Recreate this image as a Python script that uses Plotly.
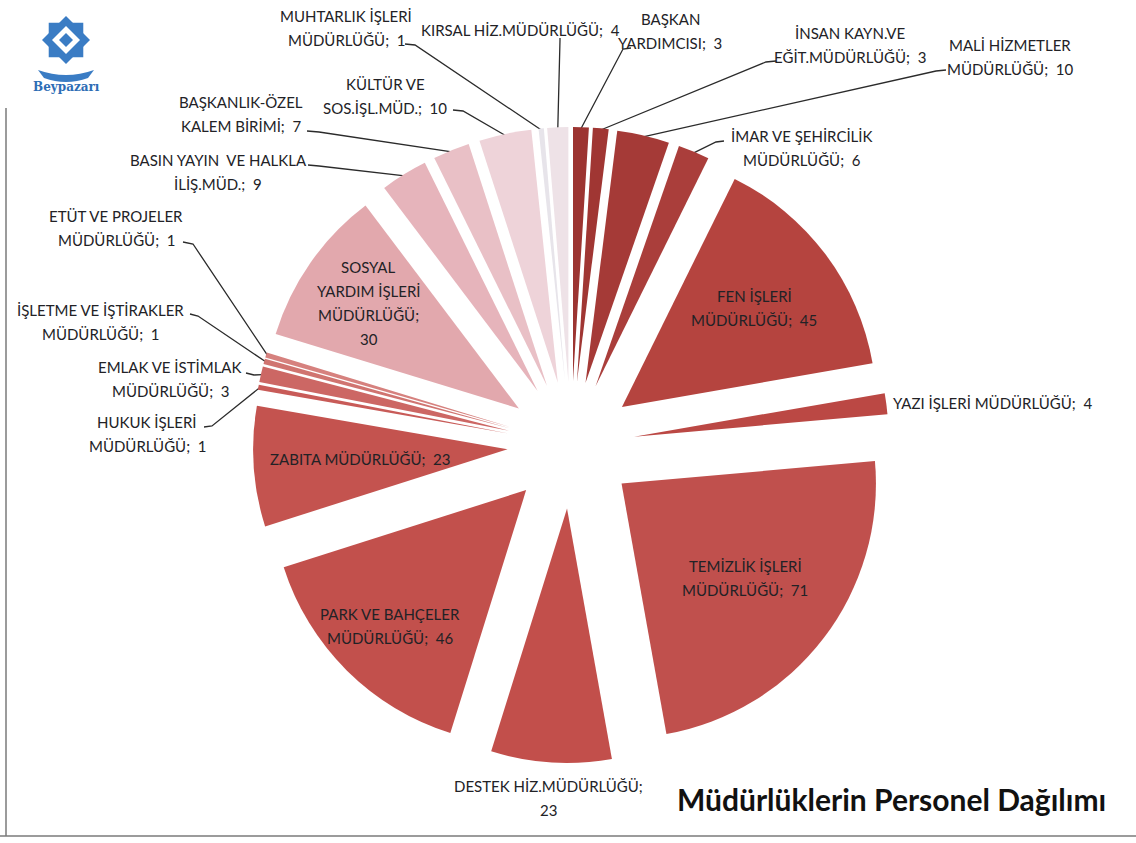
import math
import plotly.graph_objects as go

# ---------------- data ----------------
departments = [
    "BAŞKAN YARDIMCISI",
    "İNSAN KAYN.VE EĞİT.MÜDÜRLÜĞÜ",
    "MALİ HİZMETLER MÜDÜRLÜĞÜ",
    "İMAR VE ŞEHİRCİLİK MÜDÜRLÜĞÜ",
    "FEN İŞLERİ MÜDÜRLÜĞÜ",
    "YAZI İŞLERİ MÜDÜRLÜĞÜ",
    "TEMİZLİK İŞLERİ MÜDÜRLÜĞÜ",
    "DESTEK HİZ.MÜDÜRLÜĞÜ",
    "PARK VE BAHÇELER MÜDÜRLÜĞÜ",
    "ZABITA MÜDÜRLÜĞÜ",
    "HUKUK İŞLERİ MÜDÜRLÜĞÜ",
    "EMLAK VE İSTİMLAK MÜDÜRLÜĞÜ",
    "İŞLETME VE İŞTİRAKLER MÜDÜRLÜĞÜ",
    "ETÜT VE PROJELER MÜDÜRLÜĞÜ",
    "SOSYAL YARDIM İŞLERİ MÜDÜRLÜĞÜ",
    "BASIN YAYIN  VE HALKLA İLİŞ.MÜD.",
    "BAŞKANLIK-ÖZEL KALEM BİRİMİ",
    "KÜLTÜR VE SOS.İŞL.MÜD.",
    "MUHTARLIK İŞLERİ MÜDÜRLÜĞÜ",
    "KIRSAL HİZ.MÜDÜRLÜĞÜ",
]
staff = [3, 3, 10, 6, 45, 4, 71, 23, 46, 23, 1, 3, 1, 1, 30, 9, 7, 10, 1, 4]

# label text as it is broken into lines on the chart
label_text = [
    "BAŞKAN<br>YARDIMCISI;  3",
    "İNSAN KAYN.VE<br>EĞİT.MÜDÜRLÜĞÜ;  3",
    "MALİ HİZMETLER<br>MÜDÜRLÜĞÜ;  10",
    "İMAR VE ŞEHİRCİLİK<br>MÜDÜRLÜĞÜ;  6",
    "FEN İŞLERİ<br>MÜDÜRLÜĞÜ;  45",
    "YAZI İŞLERİ MÜDÜRLÜĞÜ;  4",
    "TEMİZLİK İŞLERİ<br>MÜDÜRLÜĞÜ;  71",
    "DESTEK HİZ.MÜDÜRLÜĞÜ;<br>23",
    "PARK VE BAHÇELER<br>MÜDÜRLÜĞÜ;  46",
    "ZABITA MÜDÜRLÜĞÜ;  23",
    "HUKUK İŞLERİ<br>MÜDÜRLÜĞÜ;  1",
    "EMLAK VE İSTİMLAK<br>MÜDÜRLÜĞÜ;  3",
    "İŞLETME VE İŞTİRAKLER<br>MÜDÜRLÜĞÜ;  1",
    "ETÜT VE PROJELER<br>MÜDÜRLÜĞÜ;  1",
    "SOSYAL<br>YARDIM İŞLERİ<br>MÜDÜRLÜĞÜ;<br>30",
    "BASIN YAYIN  VE HALKLA<br>İLİŞ.MÜD.;  9",
    "BAŞKANLIK-ÖZEL<br>KALEM BİRİMİ;  7",
    "KÜLTÜR VE<br>SOS.İŞL.MÜD.;  10",
    "MUHTARLIK İŞLERİ<br>MÜDÜRLÜĞÜ;  1",
    "KIRSAL HİZ.MÜDÜRLÜĞÜ;  4",
]

title_text = "Müdürlüklerin Personel Dağılımı"

# ---------------- styles / layout ----------------
slice_colors = [
    "#9c3431", "#a03633", "#a53a37", "#aa3e3b", "#b5443f", "#bb4844",
    "#c0504d", "#c24f4b", "#c2504c", "#c4534f", "#c85b58", "#cc6764",
    "#d07470", "#d6817e", "#e2a8ad", "#e6b4bb", "#e9c0c6", "#eed3d9",
    "#e7e4ea", "#eee2e7",
]

W, H = 1136, 843
CX, CY = 571, 445          # pie centre (pixels from top-left)
OUTER = 318                # radius incl. explosion
PULL = 0.25
FONT = "Lato"
FSIZE = 15
LINE_H = 24
TXT = "#222226"

# inside / near labels: radial distance from centre (pixels) and anchor
radial_labels = {
    4: (229, "center"),
    5: (323, "left"),
    6: (219, "center"),
    7: (354, "center"),
    8: (256, "center"),
    9: (211, "center"),
    14: (247, "center"),
}
# outside labels with leader lines: text centre, leader start, stub end
leader_labels = {
    0: ((670, 31), (631, 48), (623, 49)),
    1: ((850, 45), (776, 61), (766, 62)),
    2: ((1010, 57), (946, 70), (936, 71)),
    3: ((802, 148), (724, 141), (716, 142)),
    10: ((147, 434), (204, 427), (212, 426)),
    11: ((170, 379), (246, 373), (254, 375)),
    12: ((100, 322), (190, 314), (198, 316)),
    13: ((116, 228), (183, 242), (193, 244)),
    15: ((218, 172), (308, 165), (319, 166)),
    16: ((241, 114), (307, 131), (319, 132)),
    17: ((385, 96), (453, 110), (463, 111)),
    18: ((346, 28), (405, 44), (415, 45)),
    19: ((520, 30), (560, 38), (560, 40)),
}

total = sum(staff)
mid_angles = []
acc = 0
for v in staff:
    mid_angles.append(360.0 * (acc + v / 2.0) / total)
    acc += v


def polar(theta_deg, rho):
    t = math.radians(theta_deg)
    return CX + rho * math.sin(t), CY - rho * math.cos(t)


fig = go.Figure()

fig.add_trace(go.Pie(
    labels=departments,
    values=staff,
    sort=False,
    direction="clockwise",
    rotation=0,
    pull=[PULL] * len(staff),
    marker=dict(colors=slice_colors, line=dict(width=0)),
    textinfo="none",
    hovertemplate="%{label}: %{value}<extra></extra>",
    showlegend=False,
    domain=dict(
        x=[(CX - OUTER) / W, (CX + OUTER) / W],
        y=[(H - CY - OUTER) / H, (H - CY + OUTER) / H],
    ),
))

# leader lines
lx, ly = [], []
for i, (tpos, start, stub) in leader_labels.items():
    tip = polar(mid_angles[i], OUTER * 0.995)
    lx += [start[0], stub[0], tip[0], None]
    ly += [start[1], stub[1], tip[1], None]
fig.add_trace(go.Scatter(
    x=lx, y=ly, mode="lines",
    line=dict(color="#2b2b2b", width=1.3),
    hoverinfo="skip", showlegend=False,
))

annotations = []


def add_label(text, x, y, anchor):
    lines = text.split("<br>")
    n = len(lines)
    for k, ln in enumerate(lines):
        annotations.append(dict(
            x=x, y=y + (k - (n - 1) / 2.0) * LINE_H, xref="x", yref="y",
            text=ln, showarrow=False, xanchor=anchor, yanchor="middle",
            font=dict(family=FONT, size=FSIZE, color=TXT),
        ))


for i, (tpos, start, stub) in leader_labels.items():
    add_label(label_text[i], tpos[0], tpos[1], "center")
for i, (rho, anchor) in radial_labels.items():
    px, py = polar(mid_angles[i], rho)
    add_label(label_text[i], px, py, anchor)

annotations.append(dict(
    x=891, y=799, xref="x", yref="y", text="<b>" + title_text + "</b>",
    showarrow=False, xanchor="center", yanchor="middle",
    font=dict(family=FONT, size=30, color="#111111"),
))

# logo approximation
annotations.append(dict(
    x=66, y=87, xref="x", yref="y", text="<b>Beypazarı</b>",
    showarrow=False, xanchor="center", yanchor="middle",
    font=dict(family="DejaVu Serif", size=12, color="#2d6db5"),
))

shapes = []
lcx, lcy, s = 66, 40, 24
sq1 = f"M {lcx-s*0.72},{lcy-s*0.72} L {lcx+s*0.72},{lcy-s*0.72} L {lcx+s*0.72},{lcy+s*0.72} L {lcx-s*0.72},{lcy+s*0.72} Z"
sq2 = f"M {lcx},{lcy-s} L {lcx+s},{lcy} L {lcx},{lcy+s} L {lcx-s},{lcy} Z"
for p in (sq1, sq2):
    shapes.append(dict(type="path", path=p, xref="x", yref="y",
                       fillcolor="#3a7cc4", line=dict(width=0), layer="above"))
s2 = 14
sq3 = f"M {lcx},{lcy-s2} L {lcx+s2},{lcy} L {lcx},{lcy+s2} L {lcx-s2},{lcy} Z"
shapes.append(dict(type="path", path=sq3, xref="x", yref="y",
                   fillcolor="white", line=dict(width=0), layer="above"))
s3 = 7
sq4 = f"M {lcx},{lcy-s3} L {lcx+s3},{lcy} L {lcx},{lcy+s3} L {lcx-s3},{lcy} Z"
shapes.append(dict(type="path", path=sq4, xref="x", yref="y",
                   fillcolor="#3a7cc4", line=dict(width=0), layer="above"))
shapes.append(dict(type="path",
                   path=f"M {lcx-28},{lcy+30} Q {lcx},{lcy+40} {lcx+28},{lcy+30} L {lcx+22},{lcy+38} Q {lcx},{lcy+46} {lcx-22},{lcy+38} Z",
                   xref="x", yref="y", fillcolor="#3a7cc4", line=dict(width=0)))

# frame lines
shapes.append(dict(type="line", x0=6, x1=6, y0=108, y1=836, xref="x", yref="y",
                   line=dict(color="#7a7a7a", width=1.5)))
shapes.append(dict(type="line", x0=0, x1=W, y0=836, y1=836, xref="x", yref="y",
                   line=dict(color="#7a7a7a", width=1.5)))

fig.update_layout(
    width=W, height=H,
    margin=dict(l=0, r=0, t=0, b=0),
    paper_bgcolor="white", plot_bgcolor="white",
    xaxis=dict(range=[0, W], visible=False, fixedrange=True),
    yaxis=dict(range=[H, 0], visible=False, fixedrange=True),
    annotations=annotations,
    shapes=shapes,
    showlegend=False,
)

fig.write_html("out.html")
